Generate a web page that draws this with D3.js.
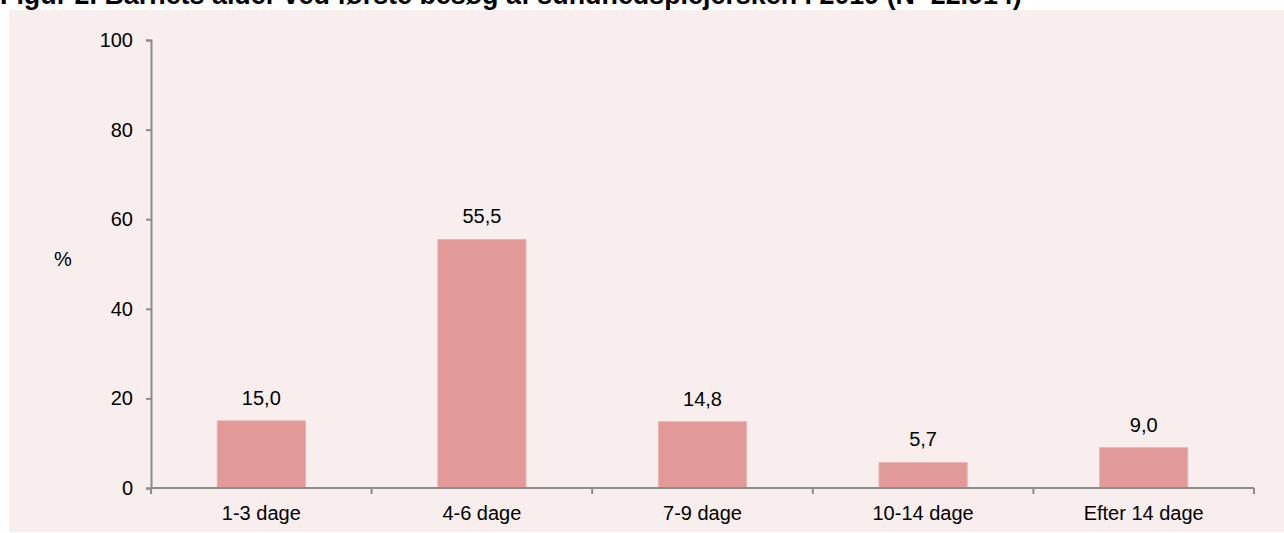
<!DOCTYPE html>
<html>
<head>
<meta charset="utf-8">
<script src="https://cdn.jsdelivr.net/npm/d3@7"></script>
<style>
  body { margin: 0; background: #ffffff; }
  text { font-family: "Liberation Sans", Arial, sans-serif; fill: #000; }
</style>
</head>
<body>
<div id="chart"></div>
<script>
// data
var categories = ["1-3 dage", "4-6 dage", "7-9 dage", "10-14 dage", "Efter 14 dage"];
var values = [15.0, 55.5, 14.8, 5.7, 9.0];
var yTicks = [0, 20, 40, 60, 80, 100];
var title = "Figur 2. Barnets alder ved første besøg af sundhedsplejersken i 2019 (N=22.914)";

var W = 1284, H = 533;
var margin = {top: 40, right: 30, bottom: 45, left: 151},
    width = 1254 - margin.left,
    height = 488 - margin.top;

var svg = d3.select("#chart")
  .append("svg")
    .attr("width", W)
    .attr("height", H);

// panel background
svg.append("rect")
  .attr("x", 9).attr("y", 10)
  .attr("width", W - 9).attr("height", 522)
  .attr("fill", "#f7eeed");

// title (cut at top like the original)
var t = svg.append("text")
  .attr("x", 0).attr("y", 4)
  .style("font-weight", "bold")
  .style("font-size", "20px")
  .text(title);
// size it so it spans the same width as in the figure
var tw = t.node().getComputedTextLength();
t.style("font-size", (20 * 1022 / tw) + "px");

var g = svg.append("g")
  .attr("transform", "translate(" + margin.left + "," + margin.top + ")");

var x = d3.scaleBand()
  .domain(categories)
  .range([0, width])
  .paddingInner(0.6)
  .paddingOuter(0.3);

var y = d3.scaleLinear()
  .domain([0, 100])
  .range([height, 0]);

// bars
g.selectAll("rect.bar")
  .data(values)
  .enter()
  .append("rect")
    .attr("class", "bar")
    .attr("x", function(d, i) { return x(categories[i]); })
    .attr("y", function(d) { return y(d); })
    .attr("width", x.bandwidth())
    .attr("height", function(d) { return height - y(d); })
    .attr("fill", "#e29a99")
    .attr("stroke", "#eab2b0")
    .attr("stroke-width", 0.8);

// value labels
g.selectAll("text.val")
  .data(values)
  .enter()
  .append("text")
    .attr("class", "val")
    .attr("x", function(d, i) { return x(categories[i]) + x.bandwidth() / 2; })
    .attr("y", function(d) { return y(d) - 16; })
    .attr("text-anchor", "middle")
    .style("font-size", "20px")
    .text(function(d) { return d.toFixed(1).replace(".", ","); });

// y axis
var yAxis = g.append("g")
  .call(d3.axisLeft(y).tickValues(yTicks).tickSize(5).tickPadding(13));
yAxis.selectAll("text").style("font-size", "20px").style("font-family", "'Liberation Sans', Arial, sans-serif");

// x axis: ticks at band edges
var edges = d3.range(categories.length + 1).map(function(i) { return i * width / categories.length; });
var xAxis = g.append("g")
  .attr("transform", "translate(0," + height + ")");
xAxis.append("line")
  .attr("x1", 0).attr("x2", width)
  .attr("stroke", "#8c8c8c").attr("stroke-width", 2);
xAxis.selectAll("line.tick")
  .data(edges)
  .enter()
  .append("line")
    .attr("x1", function(d) { return d; })
    .attr("x2", function(d) { return d; })
    .attr("y1", 0).attr("y2", 6)
    .attr("stroke", "#8c8c8c").attr("stroke-width", 2);
xAxis.selectAll("text.cat")
  .data(categories)
  .enter()
  .append("text")
    .attr("x", function(d) { return x(d) + x.bandwidth() / 2; })
    .attr("y", 32)
    .attr("text-anchor", "middle")
    .style("font-size", "20px")
    .text(function(d) { return d; });

yAxis.select(".domain").attr("stroke", "#8c8c8c").attr("stroke-width", 2);
yAxis.selectAll(".tick line").attr("stroke", "#8c8c8c").attr("stroke-width", 2);
yAxis.selectAll(".tick text").attr("fill", "#000");

// y label
svg.append("text")
  .attr("x", 63).attr("y", 266)
  .attr("text-anchor", "middle")
  .style("font-size", "20px")
  .text("%");
</script>
</body>
</html>
